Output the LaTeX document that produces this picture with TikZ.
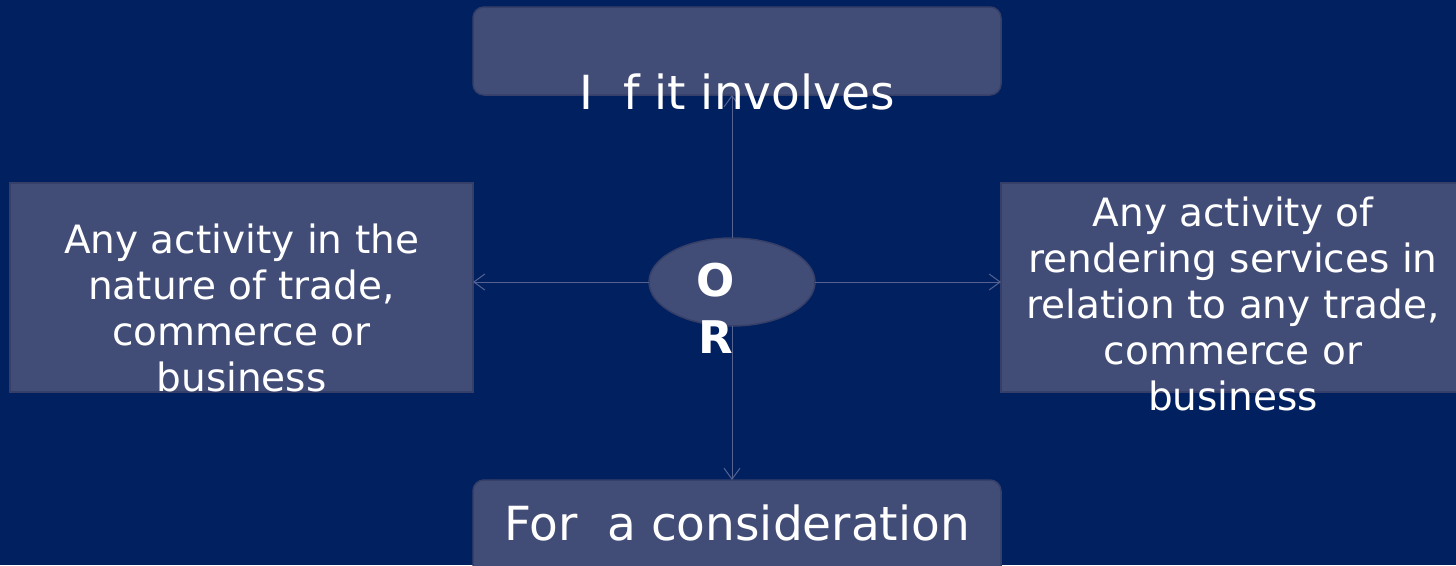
\documentclass[tikz,border=0pt]{standalone}
\usepackage{fontspec}
\setmainfont{DejaVu Sans}
\usetikzlibrary{arrows.meta,shapes.geometric}
\definecolor{bg}{HTML}{002060}
\definecolor{boxfill}{HTML}{424D77}
\definecolor{boxline}{HTML}{363F68}
\definecolor{conn}{HTML}{56628F}
\tikzset{
  panel/.style={draw=boxline, line width=1.5pt, fill=boxfill, inner sep=0pt, outer sep=0pt},
  roundpanel/.style={panel, rounded corners=11pt},
  sidetext/.style={text=white, align=center, anchor=base, inner sep=0pt, font=\fontsize{39}{46}\selectfont},
  bigtext/.style={text=white, anchor=base, inner sep=0pt, font=\fontsize{47}{56}\selectfont},
  conn/.style={draw=conn, line width=1pt, -{Straight Barb[length=11pt,width=16pt,line width=1pt]}},
}
\begin{document}
\begin{tikzpicture}[x=1pt,y=-1pt]
\fill[bg] (0,0) rectangle (1456,565);
\useasboundingbox (0,0) rectangle (1456,565);
% boxes
\node[roundpanel, minimum width=528pt, minimum height=88pt] (top) at (737,51) {};
\node[roundpanel, minimum width=528pt, minimum height=120pt] (bottom) at (737,540) {};
\node[panel, minimum width=463pt, minimum height=209pt] (left) at (241.5,287.5) {};
\node[panel, minimum width=480pt, minimum height=209pt] (right) at (1241,287.5) {};
\node[panel, ellipse, minimum width=166pt, minimum height=88pt] (or) at (732,282) {};
% connectors
\coordinate (topin) at (732,95);
\coordinate (botin) at (732,480);
\draw[conn] (or.north) -- (topin);
\draw[conn] (or.south) -- (botin);
\draw[conn] (or.west) -- (left.east |- or.west);
\draw[conn] (or.east) -- (right.west |- or.east);
% texts
\node[bigtext] (toptext) at (737,109) {I\ \ f it involves};
\node[bigtext] (bottext) at (737,540) {For\ \ a consideration};
\node[sidetext] (lefttext) at (241.5,391) {Any activity in the\\nature of trade,\\commerce or\\business};
\node[sidetext] (righttext) at (1233,410) {Any activity of\\rendering services in\\relation to any trade,\\commerce or\\business};
\node[text=white, align=center, anchor=base, inner sep=0pt, font=\bfseries\fontsize{45}{57}\selectfont] (ortext) at (716,353) {O\\R};
\end{tikzpicture}
\end{document}
